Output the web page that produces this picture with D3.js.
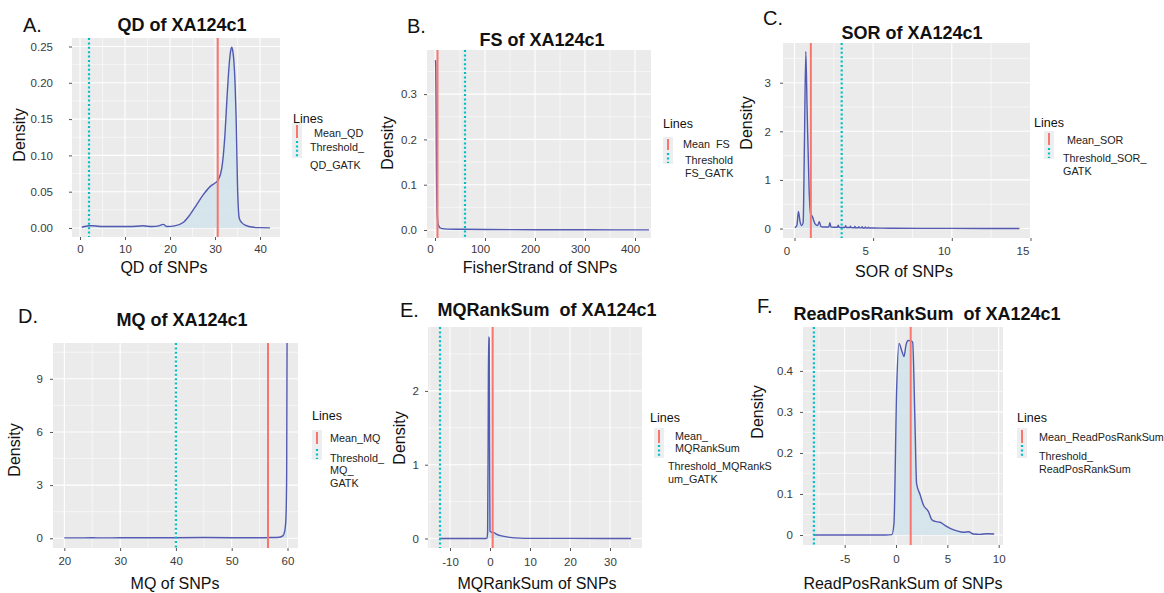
<!DOCTYPE html>
<html>
<head>
<meta charset="utf-8">
<script src="https://cdn.jsdelivr.net/npm/d3@7"></script>
<style>
  body { margin: 0; background: #fff; }
  svg { display: block; font-family: "Liberation Sans", Arial, Helvetica, sans-serif; }
  svg text { white-space: pre; }
</style>
</head>
<body>
<svg id="fig" width="1164" height="593"></svg>
<script>
// ---------- density estimates (value, density) ----------
// A. QD
const qdX = [0.4, 1, 2, 3, 5, 8, 11, 14, 16, 17.5, 18.5, 19.3, 21, 23, 24.4, 25.9, 27.4, 28.9, 30, 30.7, 31.5, 32.2, 32.7, 33.2, 33.45, 33.7, 33.95, 34.2, 34.45, 34.7, 35.0, 35.4, 36, 36.7, 38.5, 40, 42.2];
const qdY = [0.001, 0.002, 0.003, 0.003, 0.002, 0.002, 0.002, 0.003, 0.002, 0.003, 0.005, 0.002, 0.003, 0.008, 0.018, 0.032, 0.046, 0.057, 0.062, 0.066, 0.082, 0.128, 0.183, 0.229, 0.243, 0.249, 0.244, 0.229, 0.2, 0.15, 0.058, 0.013, 0.007, 0.004, 0.001, 0.0005, 0.0002];
// B. FS
const fsX = [1, 1.5, 2, 2.5, 3, 4, 5, 6, 8, 10, 15, 25, 50, 100, 200, 300, 428];
const fsY = [0.375, 0.36, 0.3, 0.22, 0.13, 0.05, 0.025, 0.014, 0.008, 0.005, 0.003, 0.002, 0.0015, 0.001, 0.0006, 0.0004, 0.0002];
// C. SOR
const sorX = [0.02, 0.15, 0.25, 0.36, 0.46, 0.55, 0.63, 0.72, 0.8, 0.93, 1.03, 1.13, 1.3, 1.47, 1.58, 1.68, 1.94, 2.18, 2.25, 2.32, 2.72, 2.78, 2.84, 3.2, 3.25, 3.3, 3.52, 3.56, 3.6, 3.8, 3.84, 3.88, 4.05, 4.09, 4.13, 4.26, 4.3, 4.34, 4.46, 4.5, 4.54, 4.66, 4.7, 4.74, 5.0, 6, 8, 10, 12, 14.3];
const sorY = [0.02, 0.06, 0.35, 0.13, 0.06, 0.12, 1.7, 3.64, 2.5, 0.8, 0.3, 0.25, 0.1, 0.06, 0.14, 0.04, 0.03, 0.03, 0.12, 0.03, 0.025, 0.07, 0.025, 0.02, 0.06, 0.02, 0.02, 0.05, 0.018, 0.017, 0.045, 0.016, 0.015, 0.04, 0.014, 0.013, 0.035, 0.012, 0.012, 0.03, 0.011, 0.011, 0.025, 0.01, 0.01, 0.006, 0.004, 0.003, 0.002, 0.001];
// D. MQ
const mqX = [20, 22, 25, 27, 30, 35, 40, 45, 50, 55, 57, 58.5, 59.2, 59.5, 59.7, 59.85, 59.95, 60];
const mqY = [0.02, 0.02, 0.03, 0.02, 0.03, 0.03, 0.03, 0.04, 0.03, 0.03, 0.04, 0.06, 0.15, 0.4, 1.0, 3.5, 14, 40];
// E. MQRankSum
const mqrX = [-12.7, -5, -1, -0.8, -0.6, -0.45, -0.35, -0.2, -0.1, 0.0, 0.4, 1.0, 1.7, 2.9, 5, 7.5, 10, 20, 35.3];
const mqrY = [0.0, 0.0, 0.0, 0.003, 0.08, 1.5, 2.73, 2.71, 1.2, 0.1, 0.085, 0.08, 0.055, 0.035, 0.015, 0.005, 0.002, 0.001, 0.0];
// F. ReadPosRankSum
const rprX = [-8, -3, -1, -0.4, -0.2, 0.06, 0.29, 0.55, 0.78, 0.97, 1.19, 1.45, 1.62, 1.85, 2.0, 2.35, 2.67, 3.16, 3.49, 3.81, 4.3, 4.79, 5.27, 5.92, 6.57, 7.06, 7.54, 8.19, 8.84, 9.56];
const rprY = [0.0, 0.0, 0.0, 0.001, 0.028, 0.354, 0.467, 0.45, 0.435, 0.463, 0.474, 0.473, 0.47, 0.27, 0.126, 0.098, 0.073, 0.057, 0.037, 0.033, 0.031, 0.023, 0.016, 0.01, 0.0065, 0.008, 0.0024, 0.0016, 0.003, 0.0024];

// ---------- reference lines ----------
const meanValues = [30.6, 5, 1.04, 56.5, 0.67, 1.43];
const thresholdValues = [2, 60, 3, 40, -12.5, -8];

// ---------- tick values and labels ----------
const ticksXA = [0, 10, 20, 30, 40];
const ticksYA = [0, 0.05, 0.10, 0.15, 0.20, 0.25];
const labelsYA = ["0.00", "0.05", "0.10", "0.15", "0.20", "0.25"];
const ticksXB = [0, 100, 200, 300, 400];
const ticksYB = [0, 0.1, 0.2, 0.3];
const labelsYB = ["0.0", "0.1", "0.2", "0.3"];
const ticksXC = [0, 5, 10, 15];
const ticksYC = [0, 1, 2, 3];
const ticksXD = [20, 30, 40, 50, 60];
const ticksYD = [0, 3, 6, 9];
const ticksXE = [-10, 0, 10, 20, 30];
const ticksYE = [0, 1, 2];
const ticksXF = [-5, 0, 5, 10];
const ticksYF = [0, 0.1, 0.2, 0.3, 0.4];
const labelsYF = ["0", "0.1", "0.2", "0.3", "0.4"];

// ---------- texts ----------
const panelLetters = ["A.", "B.", "C.", "D.", "E.", "F."];
const panelTitles = ["QD of XA124c1", "FS of XA124c1", "SOR of XA124c1", "MQ of XA124c1", "MQRankSum  of XA124c1", "ReadPosRankSum  of XA124c1"];
const xTitles = ["QD of SNPs", "FisherStrand of SNPs", "SOR of SNPs", "MQ of SNPs", "MQRankSum of SNPs", "ReadPosRankSum of SNPs"];
const legendMean = [["Mean_QD"], ["Mean  FS"], ["Mean_SOR"], ["Mean_MQ"], ["Mean_", "MQRankSum"], ["Mean_ReadPosRankSum"]];
const legendThreshold = [["Threshold_", "QD_GATK"], ["Threshold", "FS_GATK"], ["Threshold_SOR_", "GATK"], ["Threshold_", "MQ_", "GATK"], ["Threshold_MQRankS", "um_GATK"], ["Threshold_", "ReadPosRankSum"]];

const panels = [
  { xs: qdX, ys: qdY, tx: ticksXA, ty: ticksYA, ly: labelsYA },
  { xs: fsX, ys: fsY, tx: ticksXB, ty: ticksYB, ly: labelsYB },
  { xs: sorX, ys: sorY, tx: ticksXC, ty: ticksYC, ly: null },
  { xs: mqX, ys: mqY, tx: ticksXD, ty: ticksYD, ly: null },
  { xs: mqrX, ys: mqrY, tx: ticksXE, ty: ticksYE, ly: null },
  { xs: rprX, ys: rprY, tx: ticksXF, ty: ticksYF, ly: labelsYF }
];

// ---------- layout of each panel ----------
const layout = [
  { rect: [72, 38, 280, 237], xDom: [-1.78, 44.44], yDom: [-0.0124, 0.2617], xPad: 4.8, yPad: 16, xShift: 0,
    letter: [23, 32], title: [182, 31], yTitle: [19, 135], xTitle: [164, 273],
    leg: { title: [293, 123], key: 297, red: [125, 138], cyan: [141, 157], meanX: 314, meanY: [137], thrX: 310, thrY: [151, 169] } },
  { rect: [427, 50, 651, 238], xDom: [-16, 432], yDom: [-0.0177, 0.3974], xPad: 3.8, yPad: 7, xShift: -5,
    letter: [407, 33], title: [542, 46], yTitle: [387, 143], xTitle: [540, 273],
    leg: { title: [663, 128], key: 668, red: [139, 150], cyan: [153, 163], meanX: 683, meanY: [148], thrX: 685, thrY: [164, 177] } },
  { rect: [783, 43, 1030, 238], xDom: [-0.73, 14.97], yDom: [-0.195, 3.817], xPad: 5.8, yPad: 9, xShift: -8,
    letter: [763, 25], title: [912, 39], yTitle: [746, 123], xTitle: [904, 277],
    leg: { title: [1034, 127], key: 1049, red: [133, 145], cyan: [148, 158], meanX: 1067, meanY: [144], thrX: 1063, thrY: [162, 175] } },
  { rect: [53, 343, 298, 548], xDom: [17.97, 61.88], yDom: [-0.549, 11.02], xPad: 5.8, yPad: 7, xShift: 0,
    letter: [18, 323], title: [182, 326], yTitle: [14, 450], xTitle: [175, 589],
    leg: { title: [312, 420], key: 317, red: [432, 444], cyan: [449, 459], meanX: 330, meanY: [442], thrX: 330, thrY: [462, 474, 487] } },
  { rect: [428, 327, 642, 548], xDom: [-15.5, 38], yDom: [-0.129, 2.866], xPad: 6.8, yPad: 6, xShift: 0,
    letter: [400, 317], title: [547, 316], yTitle: [399, 438], xTitle: [537, 589],
    leg: { title: [650, 422], key: 659, red: [430, 443], cyan: [445, 457], meanX: 675, meanY: [440, 452], thrX: 668, thrY: [470, 483] } },
  { rect: [803, 327, 1003, 545], xDom: [-9.06, 10.42], yDom: [-0.0244, 0.507], xPad: 6.8, yPad: 7, xShift: 0,
    letter: [757, 313], title: [927, 320], yTitle: [757, 412], xTitle: [903, 589],
    leg: { title: [1017, 422], key: 1022, red: [430, 443], cyan: [445, 457], meanX: 1039, meanY: [441], thrX: 1039, thrY: [460, 473] } }
];

const COL = {
  panel: "#ebebeb", grid: "#ffffff", fill: "#d3e4eb", line: "#3a40a6",
  mean: "#f8766d", thr: "#00bfc4", tick: "#3a3a3a", text: "#111111"
};

const svg = d3.select("#fig");
const defs = svg.append("defs");

function minorsOf(ticks, dom) {
  const step = ticks[1] - ticks[0];
  const out = [];
  for (let t = ticks[0] - step / 2; t <= dom[1]; t += step) {
    if (t >= dom[0]) out.push(t);
  }
  return out;
}

panels.forEach((p, i) => {
  const L = layout[i];
  const [x0, y0, x1, y1] = L.rect;
  const x = d3.scaleLinear().domain(L.xDom).range([x0, x1]);
  const y = d3.scaleLinear().domain(L.yDom).range([y1, y0]);
  const g = svg.append("g");

  defs.append("clipPath").attr("id", "clip" + i)
    .append("rect").attr("x", x0).attr("y", y0).attr("width", x1 - x0).attr("height", y1 - y0);

  // panel background
  g.append("rect").attr("x", x0).attr("y", y0).attr("width", x1 - x0).attr("height", y1 - y0)
    .attr("fill", COL.panel);

  // grid lines
  const grid = g.append("g").attr("stroke", COL.grid);
  grid.selectAll(".mx").data(minorsOf(p.tx, L.xDom)).join("line")
    .attr("x1", d => x(d)).attr("x2", d => x(d)).attr("y1", y0).attr("y2", y1).attr("stroke-width", 0.55);
  grid.selectAll(".my").data(minorsOf(p.ty, L.yDom)).join("line")
    .attr("y1", d => y(d)).attr("y2", d => y(d)).attr("x1", x0).attr("x2", x1).attr("stroke-width", 0.55);
  grid.selectAll(".Mx").data(p.tx.filter(t => t >= L.xDom[0] && t <= L.xDom[1])).join("line")
    .attr("x1", d => x(d)).attr("x2", d => x(d)).attr("y1", y0).attr("y2", y1).attr("stroke-width", 1.1);
  grid.selectAll(".My").data(p.ty).join("line")
    .attr("y1", d => y(d)).attr("y2", d => y(d)).attr("x1", x0).attr("x2", x1).attr("stroke-width", 1.1);

  // density
  const pts = p.xs.map((v, j) => [v, p.ys[j]]);
  const plot = g.append("g").attr("clip-path", `url(#clip${i})`);
  plot.append("path").datum(pts)
    .attr("d", d3.area().x(d => x(d[0])).y0(y(0)).y1(d => y(d[1])).curve(d3.curveMonotoneX))
    .attr("fill", COL.fill).attr("opacity", 0.9);
  plot.append("path").datum(pts)
    .attr("d", d3.line().x(d => x(d[0])).y(d => y(d[1])).curve(d3.curveMonotoneX))
    .attr("fill", "none").attr("stroke", COL.line).attr("stroke-width", 1.4)
    .attr("stroke-opacity", 0.85).attr("stroke-linejoin", "round");

  // mean and threshold lines
  plot.append("line").attr("x1", x(meanValues[i])).attr("x2", x(meanValues[i]))
    .attr("y1", y0).attr("y2", y1).attr("stroke", COL.mean).attr("stroke-width", 2);
  plot.append("line").attr("x1", x(thresholdValues[i])).attr("x2", x(thresholdValues[i]))
    .attr("y1", y0).attr("y2", y1).attr("stroke", COL.thr).attr("stroke-width", 2.2)
    .attr("stroke-dasharray", "2,2.4");

  // axes
  const xa = d3.axisBottom(x).tickValues(p.tx).tickSize(3).tickPadding(L.xPad)
    .tickFormat(d => String(d));
  const gx = g.append("g").attr("transform", `translate(0,${y1})`).call(xa);
  const ya = d3.axisLeft(y).tickValues(p.ty).tickSize(3).tickPadding(L.yPad)
    .tickFormat((d, j) => p.ly ? p.ly[j] : String(d));
  const gy = g.append("g").attr("transform", `translate(${x0},0)`).call(ya);
  [gx, gy].forEach(a => {
    a.select(".domain").remove();
    a.selectAll(".tick line").attr("stroke", "#555");
    a.selectAll("text").attr("fill", COL.tick).attr("font-size", 11.5)
      .attr("font-family", "Liberation Sans, Arial, sans-serif");
  });
  gx.selectAll("text").attr("dx", L.xShift);

  // texts
  g.append("text").attr("x", L.letter[0]).attr("y", L.letter[1]).attr("font-size", 20)
    .attr("fill", COL.text).text(panelLetters[i]);
  g.append("text").attr("x", L.title[0]).attr("y", L.title[1]).attr("text-anchor", "middle")
    .attr("font-size", 18).attr("font-weight", "bold").attr("fill", COL.text).text(panelTitles[i]);
  g.append("text").attr("transform", `translate(${L.yTitle[0]},${L.yTitle[1]}) rotate(-90)`)
    .attr("text-anchor", "middle").attr("dominant-baseline", "central")
    .attr("font-size", 16).attr("fill", COL.text).text("Density");
  g.append("text").attr("x", L.xTitle[0]).attr("y", L.xTitle[1]).attr("text-anchor", "middle")
    .attr("font-size", 16).attr("fill", COL.text).text(xTitles[i]);

  // legend
  const lg = L.leg;
  const leg = g.append("g");
  leg.append("text").attr("x", lg.title[0]).attr("y", lg.title[1]).attr("font-size", 12.5)
    .attr("fill", COL.text).text("Lines");
  leg.append("rect").attr("x", lg.key - 5).attr("y", lg.red[0] - 2).attr("width", 10)
    .attr("height", lg.cyan[1] - lg.red[0] + 3).attr("fill", "#eceef0");
  leg.append("line").attr("x1", lg.key).attr("x2", lg.key).attr("y1", lg.red[0]).attr("y2", lg.red[1])
    .attr("stroke", COL.mean).attr("stroke-width", 2);
  leg.append("line").attr("x1", lg.key).attr("x2", lg.key).attr("y1", lg.cyan[0]).attr("y2", lg.cyan[1])
    .attr("stroke", COL.thr).attr("stroke-width", 2.2).attr("stroke-dasharray", "2,2.4");
  legendMean[i].forEach((t, j) => {
    leg.append("text").attr("x", lg.meanX).attr("y", lg.meanY[j]).attr("font-size", 10.8)
      .attr("fill", "#222").text(t);
  });
  legendThreshold[i].forEach((t, j) => {
    leg.append("text").attr("x", lg.thrX).attr("y", lg.thrY[j]).attr("font-size", 10.8)
      .attr("fill", "#222").text(t);
  });
});
</script>
</body>
</html>
